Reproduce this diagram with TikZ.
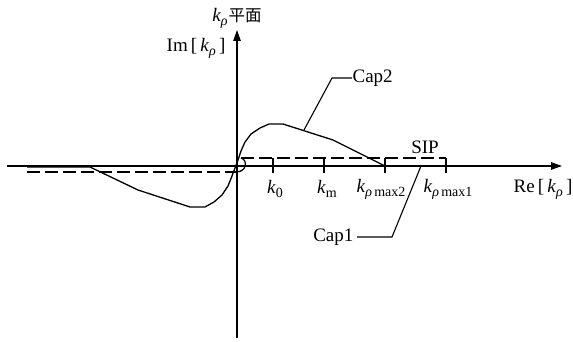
\documentclass[tikz,border=0pt]{standalone}
\usepackage{fontspec}
\setmainfont{Liberation Serif}
\newfontfamily\cjkfont{Noto Sans CJK SC}
\usetikzlibrary{arrows.meta}
\newcommand{\kk}[1]{\textit{k}\raisebox{-0.45ex}{\fontsize{14}{15}\selectfont #1}}
\begin{document}
\begin{tikzpicture}[x=1pt,y=-1pt,line width=1.25pt,
  axis/.style={-{Triangle[length=11pt,width=7.5pt]}},
  lab/.style={font=\fontsize{19}{22}\selectfont,inner sep=0pt},
  sip/.style={dash pattern=on 13pt off 5pt},
  tickmark/.style={line width=1.25pt},
  leader/.style={line width=1.1pt}]
\useasboundingbox (0,0) rectangle (573,342);
\fill[white] (0,0) rectangle (573,342);
% axes
\coordinate (xs) at (7,166);
\coordinate (xe) at (562,166);
\coordinate (ys) at (237,338);
\coordinate (ye) at (237,30);
\coordinate (o) at (237,166);
\draw[axis] (xs) -- (xe);
\draw[axis] (ys) -- (ye);
% Cap1 along the real axis
\coordinate (c1e) at (446,166);
\draw[line width=2pt] (o) -- (c1e);
% Cap2 curve
\draw[line join=round,line width=1.3pt] (27,167) -- (90,167) -- (138,190) -- (190,207) -- (205,207)
  -- (214,202) -- (222,195) -- (228,186) -- (232,176) -- (235,168) -- (238,160)
  -- (241,151) -- (245,142) -- (251,134) -- (260,128) -- (269,124) -- (283,124)
  -- (333,140) -- (385,166);
% SIP dashed path
\draw[sip] (27,172) -- (236,172);
\draw (236,172) .. controls (247,172) and (248,160) .. (241,158);
\draw[sip] (241,158) -- (446,158);
\draw (446,158) -- (446,166);
% ticks
\foreach \n/\x in {t0/273,tm/324,t2/385,t1/446}{
  \coordinate (\n top) at (\x,158);
  \coordinate (\n bot) at (\x,173);
  \draw[tickmark] (\n top) -- (\n bot);
}
% labels
\node[lab] (plane) at (237,18) {\kk{\textit{ρ}}\hspace{1pt}{\cjkfont\fontsize{16.5}{18}\selectfont 平面}};
\node[lab,anchor=east] (im) at (226,48) {Im\,[\,\kk{\textit{ρ}}\,]};
\node[lab,anchor=east] (re) at (573,189) {Re\,[\,\kk{\textit{ρ}}\,]};
\node[lab] (k0) at (275,189) {\kk{0}};
\node[lab] (km) at (327,189) {\kk{m}};
\node[lab] (k2) at (381,189) {\kk{\textit{ρ}\,max2}};
\node[lab] (k1) at (448,189) {\kk{\textit{ρ}\,max1}};
\node[lab] (sip) at (425,147) {SIP};
\node[lab,anchor=west] (cap2) at (352,78) {Cap2};
\node[lab,anchor=east] (cap1) at (354,237) {Cap1};
% leaders
\coordinate (c2a) at (332,78);
\coordinate (c2b) at (304,130);
\draw[leader] (cap2.west) -- (c2a) -- (c2b);
\coordinate (c1a) at (392,237);
\coordinate (c1b) at (421,166);
\draw[leader] ([xshift=3pt]cap1.east) -- (c1a) -- (c1b);
\end{tikzpicture}
\end{document}
